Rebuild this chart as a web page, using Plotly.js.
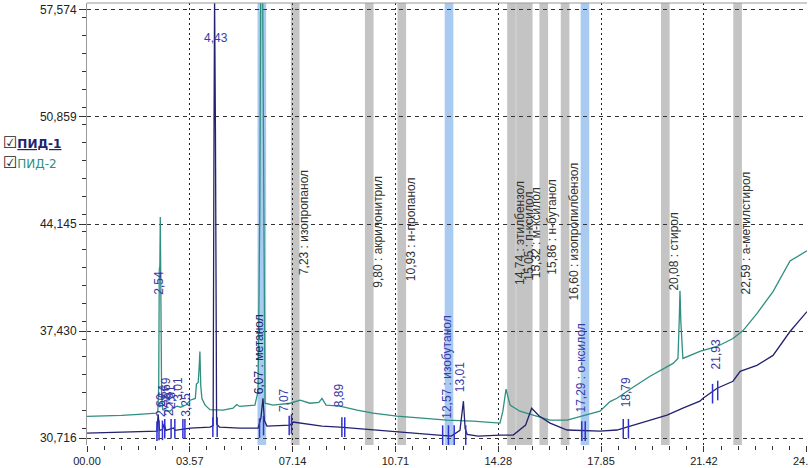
<!DOCTYPE html>
<html>
<head>
<meta charset="utf-8">
<script src="https://cdn.plot.ly/plotly-3.0.1.min.js"></script>
<style>
  html, body { margin: 0; padding: 0; background: #fff; }
  #chart { width: 808px; height: 468px; }
</style>
</head>
<body>
<div id="chart"></div>
<script>
// ПИД-1 (нижний сигнал)
var timeP1 = [0.00, 1.15, 2.36, 2.43, 2.47, 2.52, 2.62, 2.68, 2.74, 3.00, 3.06, 3.30, 3.58, 4.27, 4.38, 4.41, 4.43, 4.46, 4.50, 4.60,
  5.31, 5.94, 6.04, 6.11, 6.16, 6.25, 7.05, 7.15, 7.40, 7.70, 8.16, 8.78, 9.93, 11.10, 12.20, 12.65, 12.95, 13.07, 13.13, 13.20,
  13.58, 14.34, 14.80, 15.23, 15.44, 15.70, 16.08, 16.67, 17.81, 18.40, 18.96, 19.55, 20.14, 20.69, 21.28, 21.39, 21.88, 22.43,
  22.68, 23.26, 23.82, 24.41, 25.00];
var sigP1 = [31.03, 31.09, 31.15, 31.15, 32.20, 31.20, 31.25, 31.60, 31.20, 31.35, 31.20, 31.25, 31.34, 31.40, 31.50, 50.00, 58.30, 50.00, 31.60, 31.40,
  31.34, 31.34, 32.00, 33.21, 31.80, 31.47, 31.53, 31.72, 31.65, 31.60, 31.47, 31.40, 31.22, 31.03, 30.90, 30.84, 31.20, 33.03, 31.30, 30.95,
  30.84, 30.90, 30.90, 31.53, 32.59, 32.10, 31.65, 31.22, 31.15, 31.22, 31.53, 31.84, 32.15, 32.59, 33.03, 33.21, 33.84, 34.28,
  34.90, 35.28, 35.90, 37.40, 38.65];

// ПИД-2 (верхний сигнал)
var timeP2 = [0.00, 0.60, 1.20, 1.80, 2.20, 2.40, 2.46, 2.49, 2.51, 2.53, 2.545, 2.56, 2.59, 2.63, 2.75, 2.88, 3.00, 3.13, 3.25, 3.33,
  3.45, 3.58, 3.70, 3.76, 3.80, 3.86, 3.89, 3.92, 3.95, 3.99, 4.10, 4.27, 4.72, 5.07, 5.20, 5.30, 5.83, 5.94, 6.00, 6.03,
  6.10, 6.14, 6.18, 6.46, 7.05, 7.40, 7.74, 8.05, 8.16, 8.30, 8.78, 9.38, 9.93, 10.76, 11.67, 12.50, 13.40, 14.34, 14.44, 14.55,
  14.69, 15.03, 15.49, 16.08, 16.67, 17.22, 17.81, 18.16, 18.40, 18.96, 19.55, 20.35, 20.52, 20.57, 20.59, 20.62, 20.67, 20.69,
  21.28, 21.88, 22.43, 22.78, 23.26, 23.82, 24.41, 25.00];
var sigP2 = [32.08, 32.10, 32.14, 32.20, 32.24, 32.28, 32.40, 34.00, 41.30, 41.50, 44.58, 40.00, 33.50, 32.50, 32.45, 32.40, 32.60, 32.72, 32.65, 32.72,
  32.80, 33.09, 33.15, 33.20, 34.10, 34.20, 35.00, 36.15, 34.00, 33.20, 32.78, 32.50, 32.47, 32.59, 32.82, 32.70, 32.78, 33.65, 45.00, 58.50,
  58.50, 40.00, 32.90, 32.78, 32.90, 33.09, 32.90, 32.95, 33.21, 32.78, 32.72, 32.47, 32.28, 32.09, 31.97, 31.84, 31.78, 31.65, 32.40, 33.78,
  32.78, 32.40, 32.15, 31.84, 31.84, 32.09, 32.40, 33.00, 33.21, 33.90, 34.59, 35.40, 35.71, 38.50, 39.96, 38.00, 35.80, 35.71,
  36.15, 36.46, 36.96, 37.46, 38.52, 39.90, 41.83, 42.46];

// окна компонентов (серые) и найденные компоненты (голубые)
var compTimes = [7.23, 9.80, 10.93, 14.74, 15.05, 15.32, 15.86, 16.60, 20.08, 22.59];
var compNames = ['изопропанол', 'акрилонитрил', 'н-пропанол', 'этилбензол', 'п-ксилол', 'м-ксилол', 'н-бутанол',
  'изопропилбензол', 'стирол', 'а-метилстирол'];
var foundTimes = [6.07, 12.57, 17.29];
var foundNames = ['метанол', 'изобутанол', 'о-ксилол'];

// подписи пиков без названия
var peakTimes = [2.54, 7.07, 8.89, 13.01, 18.79, 21.93];
var clusterTimes = [2.60, 2.64, 2.69, 2.76, 2.81, 3.01, 3.25];

// метки интегрирования
var markTimes = [2.43, 2.50, 2.62, 2.70, 2.92, 3.05, 3.33, 3.40, 4.37, 4.52, 5.99, 6.13, 7.02, 7.10, 8.85, 8.95,
  12.35, 12.55, 12.75, 13.15, 17.18, 17.30, 18.62, 18.80, 21.72, 21.90];
var markVals = [31.15, 31.20, 31.20, 31.30, 31.30, 31.30, 31.30, 31.30, 31.40, 31.40, 31.34, 31.50, 31.50, 31.60, 31.40, 31.40,
  30.90, 30.90, 30.90, 30.90, 31.15, 31.15, 31.30, 31.30, 33.50, 33.70];

var yTicks = [30.716, 37.430, 44.145, 50.859, 57.574];

// где стоят низы повёрнутых подписей
var compLabelBase = [40.90, 40.08, 40.52, 40.27, 40.50, 40.70, 40.90, 39.27, 39.90, 39.65];
var foundLabelX = [5.97, 12.47, 17.15];
var foundLabelBase = [33.40, 31.84, 32.28];
var peakLabelX = [2.50, 6.84, 8.75, 12.95, 18.72, 21.84];
var peakLabelBase = [39.65, 32.28, 32.59, 33.53, 32.59, 34.96];

function fmt(t) { return t.toFixed(2).replace('.', ','); }

var navy = '#22226e';
var teal = '#2f8f80';
var labelBlue = '#3a3aa8';

var shapes = [];
compTimes.forEach(function (t) {
  shapes.push({type: 'rect', xref: 'x', yref: 'paper', x0: t - 0.15, x1: t + 0.15, y0: 0, y1: 1,
    fillcolor: '#c4c4c4', line: {width: 0}, layer: 'below'});
});
foundTimes.forEach(function (t) {
  shapes.push({type: 'rect', xref: 'x', yref: 'paper', x0: t - 0.15, x1: t + 0.15, y0: 0, y1: 1,
    fillcolor: '#a9cbf2', line: {width: 0}, layer: 'below'});
});
shapes.push({type: 'line', xref: 'paper', yref: 'paper', x0: 0, x1: 1, y0: 1, y1: 1,
  line: {color: '#999', width: 1}});

var annotations = [];
function vlabel(x, y, text, color) {
  annotations.push({x: x, y: y, xref: 'x', yref: 'y', text: text, showarrow: false, textangle: -90,
    xanchor: 'center', yanchor: 'bottom', borderpad: 0,
    font: {family: 'Liberation Sans, Arial, sans-serif', size: 12, color: color}});
}
compTimes.forEach(function (t, i) {
  vlabel(t + 0.3, compLabelBase[i], fmt(t) + ' : ' + compNames[i], '#333');
});
foundTimes.forEach(function (t, i) {
  vlabel(foundLabelX[i], foundLabelBase[i], fmt(t) + ' : ' + foundNames[i], i === 0 ? navy : labelBlue);
});
peakTimes.forEach(function (t, i) {
  vlabel(peakLabelX[i], peakLabelBase[i], fmt(t), labelBlue);
});
clusterTimes.forEach(function (t, i) {
  vlabel(t - 0.05 + i * 0.04, 32.0 + (i % 3) * 0.5, fmt(t), labelBlue);
});
annotations.push({x: 4.48, y: 55.83, xref: 'x', yref: 'y', text: '4,43', showarrow: false,
  font: {family: 'Liberation Sans, Arial, sans-serif', size: 12, color: labelBlue}});

// легенда слева
annotations.push({xref: 'paper', yref: 'paper', x: -0.119, y: 0.685, xanchor: 'left', yanchor: 'middle', showarrow: false,
  text: '<span style="color:#222;font-size:16px">☑</span><b><u>ПИД-1</u></b>',
  font: {family: 'DejaVu Sans, Arial', size: 12, color: navy}});
annotations.push({xref: 'paper', yref: 'paper', x: -0.119, y: 0.640, xanchor: 'left', yanchor: 'middle', showarrow: false,
  text: '<span style="color:#222;font-size:16px">☑</span>ПИД-2',
  font: {family: 'DejaVu Sans, Arial', size: 12, color: teal}});

// подписи оси Y с запятой; шаг может округлиться в третьем знаке
var alias = {};
yTicks.forEach(function (v, k) {
  var text = v.toFixed(3).replace('.', ',');
  alias[v.toFixed(3)] = text;
  alias[(30.716 + k * 6.7145).toFixed(3)] = text;
  alias[(v + 0.001).toFixed(3)] = text;
});

var traces = [
  {x: timeP2, y: sigP2, name: 'ПИД-2', type: 'scatter', mode: 'lines', line: {color: teal, width: 1.3}},
  {x: timeP1, y: sigP1, name: 'ПИД-1', type: 'scatter', mode: 'lines', line: {color: navy, width: 1.3}},
  {x: markTimes, y: markVals, type: 'scatter', mode: 'markers', hoverinfo: 'skip',
    marker: {symbol: 'line-ns', size: 14, line: {color: '#3030d0', width: 1.5}}}
];

var layout = {
  width: 808, height: 468,
  margin: {l: 87, r: 1, t: 3, b: 23},
  paper_bgcolor: '#fff', plot_bgcolor: '#fff',
  showlegend: false,
  font: {family: 'Liberation Sans, Arial, sans-serif', size: 12, color: '#222'},
  xaxis: {
    range: [0, 25.0], tick0: 0, dtick: 3.57, tickformat: '05.2f',
    ticks: 'outside', ticklen: 6, tickcolor: '#333', tickwidth: 1,
    ticklabeloverflow: 'allow',
    showgrid: true, gridcolor: '#222', griddash: '2px,3px', gridwidth: 1,
    zeroline: false, showline: false,
    minor: {dtick: 0.595, ticks: 'outside', ticklen: 4, tickcolor: '#333', showgrid: false},
    tickfont: {size: 11, color: '#222'}
  },
  yaxis: {
    range: [30.28, 58.01], tick0: 30.716, dtick: 6.7145, tickformat: '.3f', labelalias: alias,
    ticks: 'outside', ticklen: 7, tickcolor: '#333', tickwidth: 1,
    showgrid: true, gridcolor: '#333', griddash: '4px,4px', gridwidth: 1,
    zeroline: false, showline: true, linecolor: '#999', linewidth: 1,
    minor: {dtick: 6.7145 / 6, ticks: 'outside', ticklen: 4, tickcolor: '#333', showgrid: false},
    tickfont: {size: 12, color: '#222'}
  },
  shapes: shapes,
  annotations: annotations
};

Plotly.newPlot('chart', traces, layout, {displayModeBar: false, staticPlot: true});
</script>
</body>
</html>
